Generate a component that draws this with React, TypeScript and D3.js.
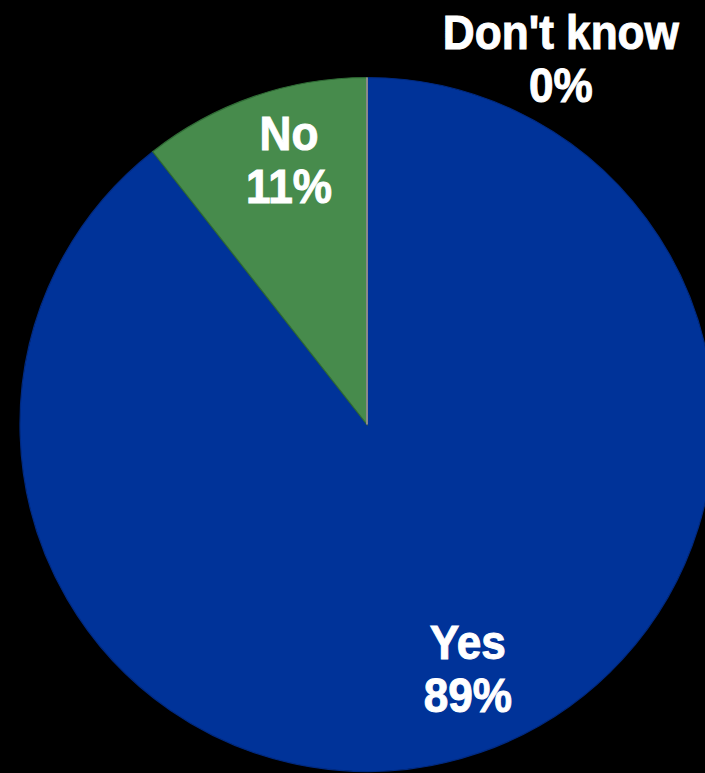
import React from "react";
import * as d3 from "d3";

const categories = ["Yes", "No", "Don't know"];
const values = [89.4, 10.6, 0];
const colors = ["#003399", "#478B4C", "#7F7F7F"];
const strokes = ["#002a80", "#2f6b35", "#8a8a8a"];

const W = 705;
const H = 773;

export default function App() {
  const cx = 367;
  const cy = 424.5;
  const r = 347;

  const total = d3.sum(values);
  const fmt = (v: number) => `${Math.round((v / total) * 100)}%`;

  const pie = d3.pie<number>().sort(null).value((d) => d)(values);
  const arc = d3.arc<d3.PieArcDatum<number>>().innerRadius(0).outerRadius(r);

  // label placement (radius factor, angular offset in degrees)
  const labelLayout = [
    [0.76, -3.4],
    [0.797, 2.7],
    [1.194, 27.9],
  ];
  const labelPos = pie.map((p, i) => {
    const mid = (p.startAngle + p.endAngle) / 2 + (labelLayout[i][1] * Math.PI) / 180;
    const lr = labelLayout[i][0] * r;
    return [Math.sin(mid) * lr, -Math.cos(mid) * lr];
  });

  const fontSize = 48;
  const lineH = 53;

  return (
    <svg
      width={W}
      height={H}
      style={{ position: "absolute", top: 0, left: 0, background: "#000" }}
    >
      <rect x={0} y={0} width={W} height={H} fill="#000" />
      <g transform={`translate(${cx},${cy})`}>
        {pie.map((p, i) => (
          <path
            key={categories[i]}
            d={arc(p) || ""}
            fill={colors[i]}
            stroke={strokes[i]}
            strokeWidth={values[i] === 0 ? 2 : 1.2}
          />
        ))}
        {pie.map((p, i) => {
          const [x, y] = labelPos[i];
          return (
            <text
              key={"l" + i}
              transform={`translate(${x},${y}) scale(0.92,1)`}
              fill="#fff"
              stroke="#fff"
              strokeWidth={1}
              fontFamily="'Liberation Sans', Arial, sans-serif"
              fontWeight="bold"
              fontSize={fontSize}
              textAnchor="middle"
            >
              <tspan x={0} y={-9}>
                {categories[i]}
              </tspan>
              <tspan x={0} y={-9 + lineH}>
                {fmt(values[i])}
              </tspan>
            </text>
          );
        })}
      </g>
    </svg>
  );
}
